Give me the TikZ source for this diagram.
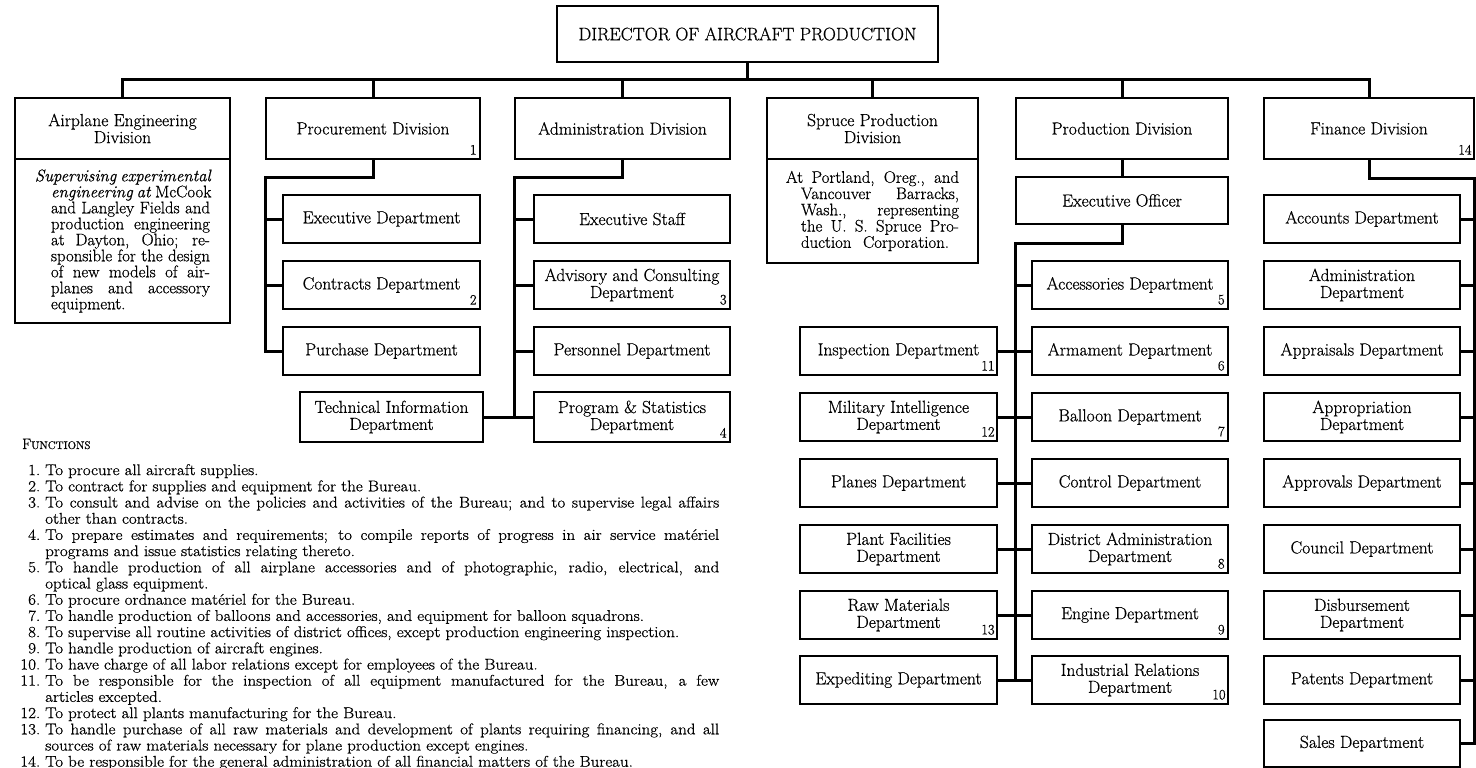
\documentclass[tikz,border=0pt]{standalone}
\usepackage{fontspec}
\setmainfont{Latin Modern Roman}[UprightFeatures={FakeBold=0.6}, ItalicFeatures={FakeBold=0.6}]
\usetikzlibrary{calc}
\tikzset{
  box/.style={draw, line width=1.6pt, inner sep=1pt, align=center, font=\fontsize{17.5}{17}\selectfont},
  conn/.style={line width=3pt, line join=miter},
  numlbl/.style={inner sep=0pt, font=\fontsize{14.5}{14.5}\selectfont, anchor=south east},
}
\newcommand\Bx[6]{\node[box, minimum width=#4pt, minimum height=#5pt] (#1) at (#2,#3) {#6};}
\newcommand\fnum[1]{\makebox[18.3pt][r]{#1}\hspace{4.6pt}}
\newcommand\fcont{\hspace*{22.9pt}}
\newcommand\fjust[1]{\makebox[615.5pt][s]{#1}}
\begin{document}
\begin{tikzpicture}[x=1pt,y=-1pt]
\useasboundingbox (0,0) rectangle (1476,768);
\fill[white] (0,0) rectangle (1476,768);

% director
\Bx{dir}{747.5}{34}{381}{56}{\fontsize{18}{18}\selectfont DIRECTOR OF AIRCRAFT PRODUCTION}

% divisions
\Bx{ae}{122.5}{128.5}{215}{61}{Airplane Engineering\\Division}
\Bx{proc}{373}{128.5}{214}{61}{Procurement Division}
\Bx{adm}{622.5}{128.5}{215}{61}{Administration Division}
\Bx{spr}{872.5}{128.5}{211}{61}{Spruce Production\\Division}
\Bx{prod}{1122}{128.5}{212}{61}{Production Division}
\Bx{fin}{1369}{128.5}{210}{61}{Finance Division}

% descriptions
\node[box, minimum width=215pt, minimum height=164pt] (aed) at (122.5,241) {\parbox{175pt}{\fontsize{16.8}{16}\selectfont\raggedright
\makebox[175pt][s]{\itshape Supervising experimental}\\
\hspace*{16pt}\makebox[159pt][s]{\itshape engineering at\/ \upshape McCook}\\
\hspace*{16pt}\makebox[159pt][s]{and Langley Fields and}\\
\hspace*{16pt}\makebox[159pt][s]{production engineering}\\
\hspace*{16pt}\makebox[159pt][s]{at Dayton, Ohio; re-}\\
\hspace*{16pt}\makebox[159pt][s]{sponsible for the design}\\
\hspace*{16pt}\makebox[159pt][s]{of new models of air-}\\
\hspace*{16pt}\makebox[159pt][s]{planes and accessory}\\
\hspace*{16pt}equipment.}};
\node[box, minimum width=211pt, minimum height=104pt] (sprd) at (872.5,211) {\parbox{173pt}{\fontsize{16.8}{16.25}\selectfont\raggedright
\makebox[173pt][s]{At Portland, Oreg., and}\\
\hspace*{15pt}\makebox[158pt][s]{Vancouver Barracks,}\\
\hspace*{15pt}\makebox[158pt][s]{Wash., representing}\\
\hspace*{15pt}\makebox[158pt][s]{the U. S. Spruce Pro-}\\
\hspace*{15pt}\makebox[148pt][s]{duction Corporation.}}};

% procurement departments
\Bx{execd}{381.5}{219}{197}{48}{Executive Department}
\Bx{contr}{381.5}{285}{197}{48}{Contracts Department}
\Bx{purch}{381.5}{351}{197}{48}{Purchase Department}
\Bx{tech}{391.5}{417}{183}{50}{Technical Information\\Department}

% administration departments
\Bx{execs}{632}{219}{196}{48}{Executive Staff}
\Bx{advis}{632}{285}{196}{48}{Advisory and Consulting\\Department}
\Bx{pers}{632}{351}{196}{48}{Personnel Department}
\Bx{prog}{632}{417}{196}{50}{Program \& Statistics\\Department}

% production
\Bx{eo}{1122}{200.5}{212}{47}{Executive Officer}
\Bx{acc}{1130}{285}{196}{48}{Accessories Department}
\Bx{arm}{1130}{351}{196}{48}{Armament Department}
\Bx{ball}{1130}{417}{196}{48}{Balloon Department}
\Bx{ctrl}{1130}{483}{196}{48}{Control Department}
\Bx{dist}{1130}{549}{196}{48}{District Administration\\Department}
\Bx{eng}{1130}{615}{196}{48}{Engine Department}
\Bx{indus}{1130}{680}{196}{48}{Industrial Relations\\Department}
\Bx{insp}{898.5}{351}{197}{48}{Inspection Department}
\Bx{mil}{898.5}{417}{197}{48}{Military Intelligence\\Department}
\Bx{planes}{898.5}{483}{197}{48}{Planes Department}
\Bx{plant}{898.5}{549}{197}{48}{Plant Facilities\\Department}
\Bx{raw}{898.5}{615}{197}{48}{Raw Materials\\Department}
\Bx{exped}{898.5}{680}{197}{48}{Expediting Department}

% finance
\Bx{acct}{1362}{219}{196}{48}{Accounts Department}
\Bx{fadm}{1362}{285}{196}{48}{Administration\\Department}
\Bx{appr}{1362}{351}{196}{48}{Appraisals Department}
\Bx{approp}{1362}{417}{196}{48}{Appropriation\\Department}
\Bx{apprv}{1362}{483}{196}{48}{Approvals Department}
\Bx{counc}{1362}{549}{196}{48}{Council Department}
\Bx{disb}{1362}{615}{196}{48}{Disbursement\\Department}
\Bx{pat}{1362}{680}{196}{48}{Patents Department}
\Bx{sales}{1362}{743.5}{196}{47}{Sales Department}

% numbers
\node[numlbl] (n1) at ([shift={(-4,-5)}]proc.south east) {1};
\node[numlbl] (n2) at ([shift={(-4,-5)}]contr.south east) {2};
\node[numlbl] (n3) at ([shift={(-4,-5)}]advis.south east) {3};
\node[numlbl] (n4) at ([shift={(-4,-5)}]prog.south east) {4};
\node[numlbl] (n5) at ([shift={(-4,-5)}]acc.south east) {5};
\node[numlbl] (n6) at ([shift={(-4,-5)}]arm.south east) {6};
\node[numlbl] (n7) at ([shift={(-4,-5)}]ball.south east) {7};
\node[numlbl] (n8) at ([shift={(-4,-5)}]dist.south east) {8};
\node[numlbl] (n9) at ([shift={(-4,-5)}]eng.south east) {9};
\node[numlbl] (n10) at ([shift={(-3,-5)}]indus.south east) {10};
\node[numlbl] (n11) at ([shift={(-3,-5)}]insp.south east) {11};
\node[numlbl] (n12) at ([shift={(-3,-5)}]mil.south east) {12};
\node[numlbl] (n13) at ([shift={(-3,-5)}]raw.south east) {13};
\node[numlbl] (n14) at ([shift={(-3,-5)}]fin.south east) {14};

% connectors
\coordinate (bus) at (0,80);
\draw[conn] (dir.south) -- (dir.south |- bus);
\draw[conn] (ae.north) -- (ae.north |- bus) -- (fin.north |- bus) -- (fin.north);
\foreach \nm in {proc,adm,spr,prod} \draw[conn] (\nm.north) -- (\nm.north |- bus);

\draw[conn] (proc.south) -- ++(0,18) coordinate (pk) -- (pk -| proc.west) |- (purch.west);
\foreach \nm in {execd,contr} \draw[conn] (\nm.west) -- (\nm.west -| proc.west);

\draw[conn] (adm.south) -- ++(0,18) coordinate (ak) -- (ak -| adm.west) |- (prog.west);
\foreach \nm in {execs,advis,pers} \draw[conn] (\nm.west) -- (\nm.west -| adm.west);
\draw[conn] (tech.east) -- (tech.east -| adm.west);

\draw[conn] (prod.south) -- (eo.north);
\draw[conn] (eo.south) -- ++(0,19) coordinate (ek) -- (ek -| prod.west) |- (indus.west);
\foreach \nm in {acc,arm,ball,ctrl,dist,eng} \draw[conn] (\nm.west) -- (\nm.west -| prod.west);
\foreach \nm in {insp,mil,planes,plant,raw,exped} \draw[conn] (\nm.east) -- (\nm.east -| prod.west);

\draw[conn] (fin.south) -- ++(0,19) coordinate (fk) -- (fk -| fin.east) |- (sales.east);
\foreach \nm in {acct,fadm,appr,approp,apprv,counc,disb,pat} \draw[conn] (\nm.east) -- (\nm.east -| fin.east);

% functions
\node[anchor=west, inner sep=0pt] (fhead) at (22,444) {\fontsize{15}{15}\selectfont F\fontsize{11}{11}\selectfont UNCTIONS};
\node[anchor=north west, inner sep=0pt] (flist) at (20,464) {\scalebox{1.095}[1]{\parbox[t]{650pt}{\fontsize{15.5}{16.2}\selectfont
\fnum{1.}To procure all aircraft supplies.\\
\fnum{2.}To contract for supplies and equipment for the Bureau.\\
\fnum{3.}\fjust{To consult and advise on the policies and activities of the Bureau; and to supervise legal affairs}\\
\fcont other than contracts.\\
\fnum{4.}\fjust{To prepare estimates and requirements; to compile reports of progress in air service matériel}\\
\fcont programs and issue statistics relating thereto.\\
\fnum{5.}\fjust{To handle production of all airplane accessories and of photographic, radio, electrical, and}\\
\fcont optical glass equipment.\\
\fnum{6.}To procure ordnance matériel for the Bureau.\\
\fnum{7.}To handle production of balloons and accessories, and equipment for balloon squadrons.\\
\fnum{8.}To supervise all routine activities of district offices, except production engineering inspection.\\
\fnum{9.}To handle production of aircraft engines.\\
\fnum{10.}To have charge of all labor relations except for employees of the Bureau.\\
\fnum{11.}\fjust{To be responsible for the inspection of all equipment manufactured for the Bureau, a few}\\
\fcont articles excepted.\\
\fnum{12.}To protect all plants manufacturing for the Bureau.\\
\fnum{13.}\fjust{To handle purchase of all raw materials and development of plants requiring financing, and all}\\
\fcont sources of raw materials necessary for plane production except engines.\\
\fnum{14.}To be responsible for the general administration of all financial matters of the Bureau.}}};
\end{tikzpicture}
\end{document}
